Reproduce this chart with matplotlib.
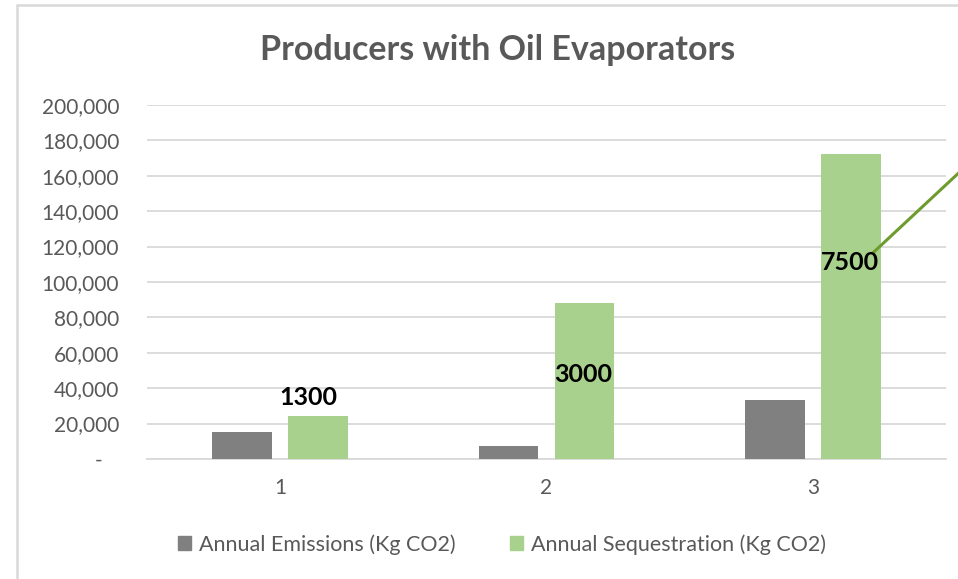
import matplotlib
matplotlib.use("Agg")
import matplotlib.pyplot as plt
from matplotlib.patches import Patch, Rectangle
from matplotlib.ticker import FuncFormatter

# data
categories = ["1", "2", "3"]
emissions = [15500, 7500, 33500]
sequestration = [24000, 88000, 172500]
labels = ["1300", "3000", "7500"]
label_pos = [(0.105, 35000), (1.137, 48000), (2.14, 111000)]
trend_x = [2.226, 2.75]
trend_y = [116500, 190000]

GREY = "#808080"
GREEN = "#A9D18E"
TEXT = "#595959"
GRID = "#D9D9D9"

plt.rcParams["font.family"] = ["Lato", "DejaVu Sans"]

figure = plt.figure(figsize=(9.58, 5.79), dpi=100)
axes = figure.add_axes([0.1534, 0.2073, 0.8341, 0.6114])

x = list(range(len(categories)))
w = 0.225
off = 0.1427
axes.bar([i - off for i in x], emissions, width=w, color=GREY, zorder=3,
         label="Annual Emissions (Kg CO2)")
axes.bar([i + off for i in x], sequestration, width=w, color=GREEN, zorder=3,
         label="Annual Sequestration (Kg CO2)")

for txt, (px, py) in zip(labels, label_pos):
    axes.text(px, py, txt, ha="center", va="center", fontsize=18,
              fontweight="bold", color="black", zorder=5)

axes.plot(trend_x, trend_y, color="#6E9B2E", lw=2.2, zorder=4, clip_on=False)

axes.set_xlim(-0.5, 2.5)
axes.set_ylim(0, 200000)
axes.set_yticks(range(0, 200001, 20000))
axes.yaxis.set_major_formatter(
    FuncFormatter(lambda v, p: "-   " if v == 0 else f"{int(v):,}"))
axes.set_xticks(x)
axes.set_xticklabels(categories)
axes.tick_params(axis="both", length=0, colors=TEXT, labelsize=15)
axes.tick_params(axis="y", pad=20)
axes.tick_params(axis="x", pad=14)
axes.grid(axis="y", color=GRID, lw=1.3, zorder=0)
for side in ["top", "right", "left"]:
    axes.spines[side].set_visible(False)
axes.spines["bottom"].set_color(GRID)
axes.spines["bottom"].set_linewidth(1.3)

figure.text(0.5195, 0.913, "Producers with Oil Evaporators", ha="center",
            va="center", fontsize=24.5, fontweight="bold", color=TEXT)

handles = [Patch(color=GREY, label="Annual Emissions (Kg CO2)"),
           Patch(color=GREEN, label="Annual Sequestration (Kg CO2)")]
figure.legend(handles=handles, loc="center", bbox_to_anchor=(0.524, 0.06),
              ncol=2, frameon=False, fontsize=15.5, labelcolor=TEXT,
              handlelength=0.6, handleheight=0.6, handletextpad=0.4,
              columnspacing=2.5)

# chart frame (only left and top edges are visible in the crop)
figure.patches.append(Rectangle((17 / 958, -0.05), 1.2, 1 - 5 / 579 + 0.05,
                                transform=figure.transFigure, fill=False,
                                edgecolor=GRID, lw=1.8))

plt.savefig("out.png", dpi=100)
plt.close()
